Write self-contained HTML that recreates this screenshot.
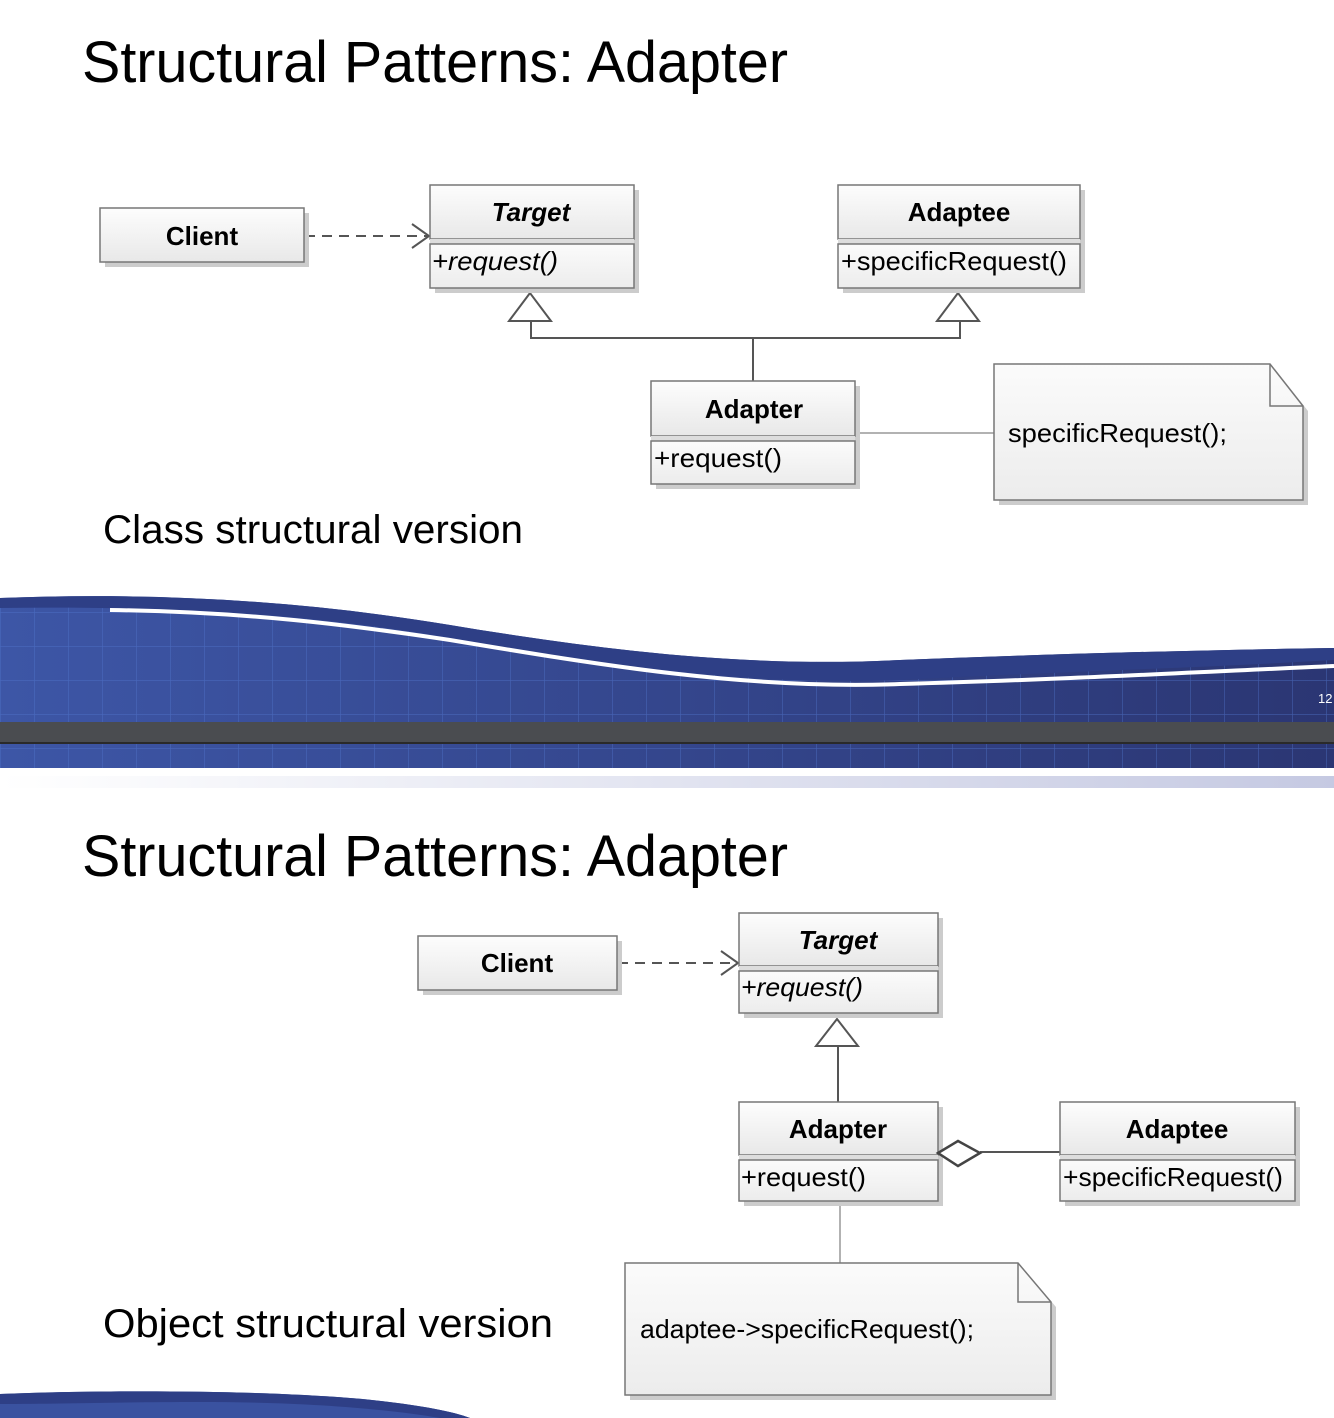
<!DOCTYPE html>
<html><head><meta charset="utf-8"><style>
html,body{margin:0;padding:0;background:#fff;}
svg{display:block;}
text{font-family:"Liberation Sans",sans-serif;}
</style></head><body>
<svg width="1334" height="1418" viewBox="0 0 1334 1418" xmlns="http://www.w3.org/2000/svg">
<defs>
<linearGradient id="hg" x1="0" y1="0" x2="0" y2="1"><stop offset="0" stop-color="#fdfdfd"/><stop offset="1" stop-color="#e8e8e8"/></linearGradient>
<linearGradient id="bg" x1="0" y1="0" x2="0" y2="1"><stop offset="0" stop-color="#fbfbfb"/><stop offset="1" stop-color="#ececec"/></linearGradient>
<linearGradient id="blue" x1="0" y1="0" x2="1" y2="0"><stop offset="0" stop-color="#3d56a6"/><stop offset="1" stop-color="#2b3673"/></linearGradient>
<linearGradient id="fade" x1="0" y1="0" x2="1" y2="0"><stop offset="0" stop-color="#fff"/><stop offset="1" stop-color="#c5c9e2"/></linearGradient>
<pattern id="grid" width="34" height="34" patternUnits="userSpaceOnUse"><path d="M0 0V34M0 0H34" stroke="#5277cf" stroke-width="1.2" fill="none" opacity="0.6"/></pattern>
</defs>

<!-- Titles -->
<text x="82" y="82" font-size="58" textLength="706" lengthAdjust="spacingAndGlyphs">Structural Patterns: Adapter</text>
<text x="103" y="543" font-size="40" textLength="420" lengthAdjust="spacingAndGlyphs">Class structural version</text>
<text x="82" y="876" font-size="58" textLength="706" lengthAdjust="spacingAndGlyphs">Structural Patterns: Adapter</text>
<text x="103" y="1337" font-size="40" textLength="450" lengthAdjust="spacingAndGlyphs">Object structural version</text>

<!-- Band -->
<path d="M0 598 C150 592 300 600 450 625 C600 650 750 668 900 660 C1050 654 1200 650 1334 648 V768 H0 Z" fill="url(#blue)"/>
<path d="M0 598 C150 592 300 600 450 625 C600 650 750 668 900 660 C1050 654 1200 650 1334 648 V768 H0 Z" fill="url(#grid)"/>
<path d="M0 598 C150 592 300 600 450 625 C600 650 750 668 900 660 C1050 654 1200 650 1334 648 L1334 660 C1200 668 1050 672 900 680 C750 686 600 665 450 638 C300 612 150 606 0 608 Z" fill="#2e3f86"/>
<path d="M110 610 C250 612 350 625 450 640 C600 665 750 690 900 684 C1050 680 1200 672 1334 666" stroke="#fff" stroke-width="4" fill="none"/>
<text x="1318" y="703" font-size="13" fill="#fff" font-family="Liberation Serif">12</text>
<rect x="0" y="722" width="1334" height="20" fill="#4a4c50"/>
<rect x="0" y="742" width="1334" height="2" fill="#2a2a2a"/>
<rect x="0" y="776" width="1334" height="12" fill="url(#fade)"/>

<!-- bottom band start -->
<path d="M0 1394 C100 1390 250 1390 350 1398 C400 1402 450 1410 470 1418 H0 Z" fill="#3a52a0"/>
<path d="M0 1394 C100 1390 250 1390 350 1398 C400 1402 450 1410 470 1418 L440 1418 C380 1408 300 1402 200 1402 C120 1402 60 1404 0 1404Z" fill="#2e3f86"/>

<g stroke="#555" fill="none" stroke-width="2">
<!-- class version connectors -->
<line x1="305" y1="236" x2="428" y2="236" stroke-dasharray="10,7"/>
<path d="M412 224 L429 236 L412 248"/>
<path d="M530 293 L509 321 L551 321 Z" fill="#fff"/>
<path d="M958 293 L937 321 L979 321 Z" fill="#fff"/>
<path d="M531 321 V338 H960 V321"/>
<line x1="753" y1="338" x2="753" y2="381"/>
<!-- object version -->
<line x1="618" y1="963" x2="737" y2="963" stroke-dasharray="10,7"/>
<path d="M721 951 L738 963 L721 975"/>
<path d="M837 1019 L816 1046 L858 1046 Z" fill="#fff"/>
<line x1="838" y1="1046" x2="838" y2="1102"/>
<line x1="980" y1="1152" x2="1060" y2="1152"/>
</g>
<line x1="856" y1="433" x2="994" y2="433" stroke="#999" stroke-width="1.5"/>
<line x1="840" y1="1201" x2="840" y2="1263" stroke="#999" stroke-width="1.5"/>

<!-- Class boxes helper: shadow, header, body -->
<g stroke="#777" stroke-width="1.5">
<!-- Client1 -->
<rect x="105" y="213" width="204" height="54" fill="#ccc" stroke="none"/>
<rect x="100" y="208" width="204" height="54" fill="url(#hg)"/>
<!-- Target1 -->
<rect x="435" y="190" width="204" height="103" fill="#ccc" stroke="none"/>
<rect x="430" y="185" width="204" height="54" fill="url(#hg)"/>
<rect x="430" y="239" width="204" height="5" fill="#ddd" stroke="none"/>
<rect x="430" y="244" width="204" height="44" fill="url(#bg)"/>
<!-- Adaptee1 -->
<rect x="843" y="190" width="242" height="103" fill="#ccc" stroke="none"/>
<rect x="838" y="185" width="242" height="54" fill="url(#hg)"/>
<rect x="838" y="239" width="242" height="5" fill="#ddd" stroke="none"/>
<rect x="838" y="244" width="242" height="44" fill="url(#bg)"/>
<!-- Adapter1 -->
<rect x="656" y="386" width="204" height="103" fill="#ccc" stroke="none"/>
<rect x="651" y="381" width="204" height="55" fill="url(#hg)"/>
<rect x="651" y="436" width="204" height="5" fill="#ddd" stroke="none"/>
<rect x="651" y="441" width="204" height="43" fill="url(#bg)"/>
<!-- Note1 -->
<path d="M999 369 H1275 L1308 411 V505 H999 Z" fill="#ccc" stroke="none"/>
<path d="M994 364 H1270 L1303 406 V500 H994 Z" fill="url(#bg)"/>
<path d="M1270 364 V406 H1303" fill="none"/>
<!-- Client2 -->
<rect x="423" y="941" width="199" height="54" fill="#ccc" stroke="none"/>
<rect x="418" y="936" width="199" height="54" fill="url(#hg)"/>
<!-- Target2 -->
<rect x="744" y="918" width="199" height="100" fill="#ccc" stroke="none"/>
<rect x="739" y="913" width="199" height="53" fill="url(#hg)"/>
<rect x="739" y="966" width="199" height="5" fill="#ddd" stroke="none"/>
<rect x="739" y="971" width="199" height="42" fill="url(#bg)"/>
<!-- Adapter2 -->
<rect x="744" y="1107" width="199" height="99" fill="#ccc" stroke="none"/>
<rect x="739" y="1102" width="199" height="53" fill="url(#hg)"/>
<rect x="739" y="1155" width="199" height="5" fill="#ddd" stroke="none"/>
<rect x="739" y="1160" width="199" height="41" fill="url(#bg)"/>
<!-- Adaptee2 -->
<rect x="1065" y="1107" width="235" height="99" fill="#ccc" stroke="none"/>
<rect x="1060" y="1102" width="235" height="53" fill="url(#hg)"/>
<rect x="1060" y="1155" width="235" height="5" fill="#ddd" stroke="none"/>
<rect x="1060" y="1160" width="235" height="41" fill="url(#bg)"/>
<!-- Note2 -->
<path d="M630 1268 H1023 L1056 1307 V1400 H630 Z" fill="#ccc" stroke="none"/>
<path d="M625 1263 H1018 L1051 1302 V1395 H625 Z" fill="url(#bg)"/>
<path d="M1018 1263 V1302 H1051" fill="none"/>
</g>
<path d="M938 1153 L958 1141 L980 1153 L958 1166 Z" fill="#fff" stroke="#444" stroke-width="2.5"/>

<!-- Labels -->
<g font-size="26" fill="#000">
<text x="202" y="245" font-weight="bold" text-anchor="middle">Client</text>
<text x="531" y="221" font-weight="bold" font-style="italic" text-anchor="middle">Target</text>
<text x="432" y="270" font-style="italic" textLength="126" lengthAdjust="spacingAndGlyphs">+request()</text>
<text x="959" y="221" font-weight="bold" text-anchor="middle">Adaptee</text>
<text x="841" y="270" textLength="226" lengthAdjust="spacingAndGlyphs">+specificRequest()</text>
<text x="754" y="418" font-weight="bold" text-anchor="middle">Adapter</text>
<text x="654" y="467" textLength="128" lengthAdjust="spacingAndGlyphs">+request()</text>
<text x="1008" y="442" textLength="219" lengthAdjust="spacingAndGlyphs">specificRequest();</text>
<text x="517" y="972" font-weight="bold" text-anchor="middle">Client</text>
<text x="838" y="949" font-weight="bold" font-style="italic" text-anchor="middle">Target</text>
<text x="741" y="996" font-style="italic" textLength="122" lengthAdjust="spacingAndGlyphs">+request()</text>
<text x="838" y="1138" font-weight="bold" text-anchor="middle">Adapter</text>
<text x="741" y="1186" textLength="125" lengthAdjust="spacingAndGlyphs">+request()</text>
<text x="1177" y="1138" font-weight="bold" text-anchor="middle">Adaptee</text>
<text x="1063" y="1186" textLength="220" lengthAdjust="spacingAndGlyphs">+specificRequest()</text>
<text x="640" y="1338" textLength="334" lengthAdjust="spacingAndGlyphs">adaptee-&gt;specificRequest();</text>
</g>
</svg>
</body></html>
